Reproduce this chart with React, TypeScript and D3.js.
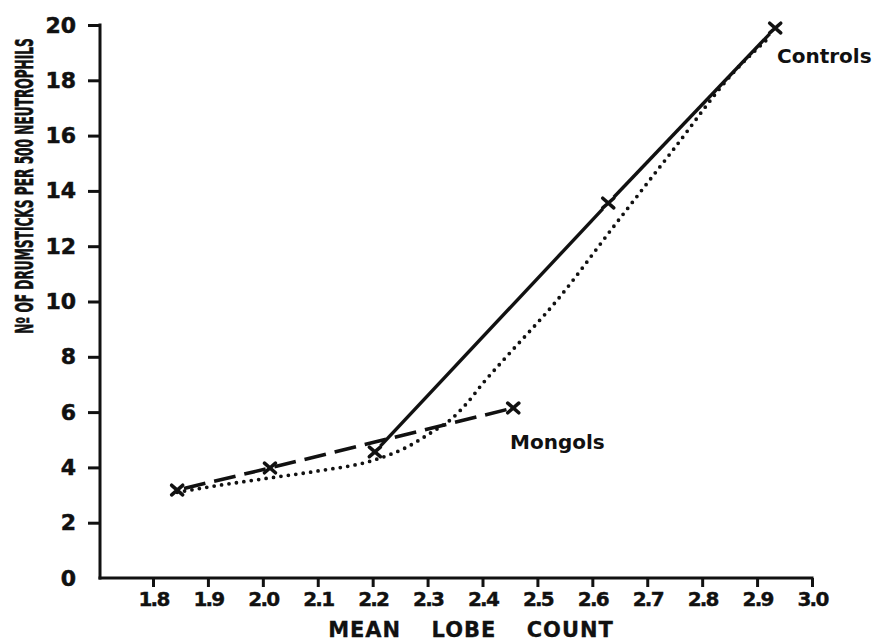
import React, { useEffect, useRef } from "react";
import * as d3 from "d3";

// tick values
const xTicks = [1.8, 1.9, 2.0, 2.1, 2.2, 2.3, 2.4, 2.5, 2.6, 2.7, 2.8, 2.9, 3.0];
const yTicks = [0, 2, 4, 6, 8, 10, 12, 14, 16, 18, 20];

// Controls (solid line, crosses)
const controlsLobe = [2.204, 2.629, 2.933];
const controlsDrum = [4.56, 13.56, 19.89];

// Mongols (dashed line, crosses)
const mongolsLobe = [1.844, 2.013, 2.456];
const mongolsDrum = [3.18, 3.98, 6.15];

// dotted curve
const curveLobe = [1.844, 1.92, 2.013, 2.1, 2.2, 2.263, 2.305, 2.341, 2.372, 2.401, 2.438, 2.536, 2.638, 2.747, 2.856, 2.925];
const curveDrum = [3.1, 3.35, 3.62, 3.87, 4.25, 4.74, 5.24, 5.71, 6.33, 7.05, 7.88, 10.05, 12.69, 15.48, 18.26, 19.6];

const W = 879;
const H = 642;
const axisX = 100;
const yTitleLength = 296;

const ink = "#111";

export default function App() {
  const xAxisRef = useRef<SVGGElement>(null);
  const yAxisRef = useRef<SVGGElement>(null);
  const yTitleRef = useRef<SVGTextElement>(null);

  const x = d3.scaleLinear().domain([1.8, 3.0]).range([153, 812]);
  const y = d3.scaleLinear().domain([0, 20]).range([578, 25]);

  useEffect(() => {
    const xAxis = d3.axisBottom(x)
      .tickValues(xTicks)
      .tickSize(9)
      .tickSizeOuter(0)
      .tickPadding(5)
      .tickFormat(d3.format(".1f") as any);
    const gx = d3.select(xAxisRef.current!);
    gx.call(xAxis as any);
    gx.select(".domain").remove();
    gx.selectAll("line").attr("stroke", ink).attr("stroke-width", 3);
    gx.selectAll("text")
      .attr("fill", ink)
      .attr("stroke", ink)
      .attr("stroke-width", 0.4)
      .style("font-family", "'DejaVu Sans', sans-serif")
      .style("font-weight", "bold")
      .style("font-size", "20px")
      .style("letter-spacing", "-1.8px");

    const yAxis = d3.axisLeft(y)
      .tickValues(yTicks)
      .tickSize(12)
      .tickSizeOuter(0)
      .tickPadding(12);
    const gy = d3.select(yAxisRef.current!);
    gy.call(yAxis as any);
    gy.select(".domain").remove();
    gy.selectAll("line")
      .attr("stroke", ink)
      .attr("stroke-width", 3)
      .attr("display", (d: any) => (d === 0 ? "none" : null));
    gy.selectAll("text")
      .attr("fill", ink)
      .attr("stroke", ink)
      .attr("stroke-width", 0.5)
      .style("font-family", "'DejaVu Sans', sans-serif")
      .style("font-weight", "bold")
      .style("font-size", "22px");

    // squeeze the narrow hand lettering of the y title
    const t = yTitleRef.current!;
    const natural = t.getComputedTextLength();
    t.setAttribute("transform", `translate(33,186) rotate(-90) scale(${yTitleLength / natural},1)`);
  }, []);

  const pts = (xs: number[], ys: number[]) => xs.map((v, i) => [x(v), y(ys[i])] as [number, number]);

  const straight = d3.line();
  const smooth = d3.line().curve(d3.curveMonotoneX);

  const controlsPts = pts(controlsLobe, controlsDrum);
  const mongolsPts = pts(mongolsLobe, mongolsDrum);
  const curvePts = pts(curveLobe, curveDrum);

  // solid segments leave a little gap round each cross
  const gap = 8;
  const solidSegments = controlsPts.slice(1).map((p1, i) => {
    const p0 = controlsPts[i];
    const dx = p1[0] - p0[0];
    const dy = p1[1] - p0[1];
    const len = Math.hypot(dx, dy);
    const ux = dx / len;
    const uy = dy / len;
    return straight([
      [p0[0] + ux * gap, p0[1] + uy * gap],
      [p1[0] - ux * gap, p1[1] - uy * gap],
    ]) as string;
  });

  const cross = (p: [number, number]) =>
    `M${p[0] - 5.5},${p[1] - 4.8}L${p[0] + 5.5},${p[1] + 4.8}M${p[0] - 5.5},${p[1] + 4.8}L${p[0] + 5.5},${p[1] - 4.8}`;

  const labelStyle = { fontFamily: "'DejaVu Sans', sans-serif", fontWeight: "bold" as const, fontSize: 20 };

  return (
    <svg width={W} height={H} style={{ position: "absolute", left: 0, top: 0, background: "#fff" }}>
      {/* axis lines */}
      <line x1={axisX} x2={axisX} y1={y(20) - 1.5} y2={y(0) + 1.5} stroke={ink} strokeWidth={3} />
      <line x1={axisX - 1.5} x2={x(3.0) + 1.5} y1={y(0)} y2={y(0)} stroke={ink} strokeWidth={3} />
      <g ref={yAxisRef} transform={`translate(${axisX},0)`} />
      <g ref={xAxisRef} transform={`translate(0,${y(0)})`} />

      {/* dotted curve */}
      <path
        d={smooth(curvePts) as string}
        fill="none"
        stroke={ink}
        strokeWidth={3.8}
        strokeLinecap="round"
        strokeDasharray="0 7.5"
      />

      {/* Mongols dashed */}
      <path
        d={straight(mongolsPts) as string}
        fill="none"
        stroke={ink}
        strokeWidth={3.6}
        strokeDasharray="22 9"
        strokeDashoffset={24}
      />

      {/* Controls solid */}
      {solidSegments.map((d, i) => (
        <path key={i} d={d} fill="none" stroke={ink} strokeWidth={3.4} />
      ))}

      {/* crosses */}
      {[...mongolsPts, ...controlsPts].map((p, i) => (
        <path key={i} d={cross(p)} stroke={ink} strokeWidth={3.6} strokeLinecap="round" />
      ))}

      {/* series labels */}
      <text x={777} y={63} fill={ink} style={labelStyle}>Controls</text>
      <text x={510} y={449} fill={ink} style={labelStyle}>Mongols</text>

      {/* axis titles */}
      <text
        x={471}
        y={637}
        textAnchor="middle"
        fill={ink}
        stroke={ink}
        strokeWidth={0.3}
        style={{ fontFamily: "'DejaVu Sans', sans-serif", fontWeight: "bold", fontSize: 21, letterSpacing: 1, wordSpacing: 22 }}
      >
        MEAN LOBE COUNT
      </text>
      <text
        ref={yTitleRef}
        transform="translate(33,186) rotate(-90)"
        textAnchor="middle"
        fill={ink}
        stroke={ink}
        strokeWidth={0.6}
        style={{ fontFamily: "'DejaVu Sans', sans-serif", fontWeight: "bold", fontSize: 24 }}
      >
        Nº OF DRUMSTICKS PER 500 NEUTROPHILS
      </text>
    </svg>
  );
}
